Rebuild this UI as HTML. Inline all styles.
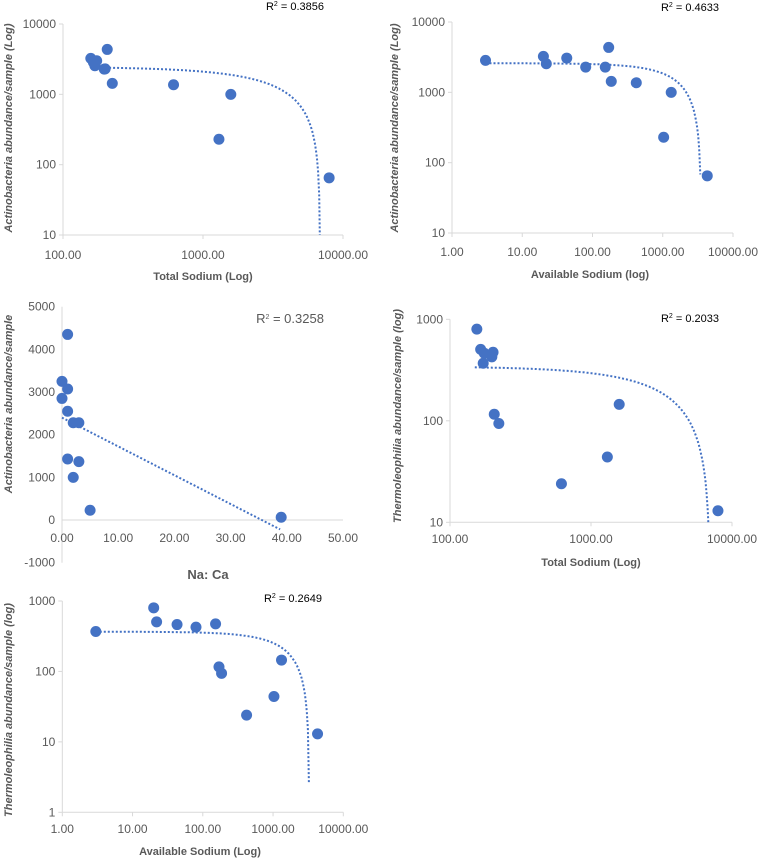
<!DOCTYPE html>
<html><head><meta charset="utf-8"><style>
html,body{margin:0;padding:0;background:#fff;}
svg{display:block;font-family:"Liberation Sans",sans-serif;}
</style></head><body>
<svg id="svg" width="760" height="859" viewBox="0 0 760 859"></svg>
<script>
// Chart 1: Actinobacteria vs Total Sodium (log-log)
const c1X = [158,174,169,207,197,200,165,225,616,1580,1300,7960];
const c1Y = [3250,3000,2550,4350,2280,2300,2850,1430,1370,1000,230,65];
const c1Trend = [2462,-0.359]; // intercept, slope (linear trend)
const c1XTicks = [100,1000,10000];
const c1XLabels = ["100.00","1000.00","10000.00"];
const c1YTicks = [10,100,1000,10000];
const c1YLabels = ["10","100","1000","10000"];
// Chart 2: Actinobacteria vs Available Sodium
const c2X = [3,20,22,43,80,152,170,185,420,1320,1030,4300];
const c2Y = [2850,3250,2550,3070,2280,2280,4350,1430,1370,1000,230,65];
const c2Trend = [2592,-0.737];
const c2XTicks = [1,10,100,1000,10000];
const c2XLabels = ["1.00","10.00","100.00","1000.00","10000.00"];
const c2YTicks = [10,100,1000,10000];
const c2YLabels = ["10","100","1000","10000"];
// Chart 3: Actinobacteria vs Na:Ca (linear)
const c3X = [0,0,1,1,1,2,3,1,3,2,5,39];
const c3Y = [3250,2850,4350,3070,2550,2280,2280,1430,1370,1000,230,65];
const c3Trend = [2400,-67.5];
const c3XTicks = [0,10,20,30,40,50];
const c3XLabels = ["0.00","10.00","20.00","30.00","40.00","50.00"];
const c3YTicks = [-1000,0,1000,2000,3000,4000,5000];
const c3YLabels = ["-1000","0","1000","2000","3000","4000","5000"];
// Chart 4: Thermoleophilia vs Total Sodium
const c4X = [155,165,175,202,198,172,206,222,1585,1306,617,7950];
const c4Y = [800,506,463,473,426,369,116,94,145,44,24,13];
const c4Trend = [343.6,-0.0491];
const c4XTicks = [100,1000,10000];
const c4XLabels = ["100.00","1000.00","10000.00"];
const c4YTicks = [10,100,1000];
const c4YLabels = ["10","100","1000"];
// Chart 5: Thermoleophilia vs Available Sodium
const c5X = [3,20,22,43,80,152,170,185,420,1030,1320,4300];
const c5Y = [369,800,506,463,426,473,116,94,24,44,145,13];
const c5Trend = [366.3,-0.1123];
const c5XTicks = [1,10,100,1000,10000];
const c5XLabels = ["1.00","10.00","100.00","1000.00","10000.00"];
const c5YTicks = [1,10,100,1000];
const c5YLabels = ["1","10","100","1000"];

const NS="http://www.w3.org/2000/svg";
const svg=document.getElementById('svg');
function mk(tag,attrs,parent,text){
  const e=document.createElementNS(NS,tag);
  for(const k in attrs)e.setAttribute(k,attrs[k]);
  if(text!==undefined)e.textContent=text;
  (parent||svg).appendChild(e);return e;
}
function chart(cfg){
  const g=mk('g',{});
  
  
  const lg=v=>Math.log10(v);
  const sx=v=>cfg.xlog? cfg.x0+(lg(v)-lg(cfg.xmin))/(lg(cfg.xmax)-lg(cfg.xmin))*(cfg.x1-cfg.x0)
                    : cfg.x0+(v-cfg.xmin)/(cfg.xmax-cfg.xmin)*(cfg.x1-cfg.x0);
  const sy=v=>cfg.ylog? cfg.y1-(lg(v)-lg(cfg.ymin))/(lg(cfg.ymax)-lg(cfg.ymin))*(cfg.y1-cfg.y0)
                    : cfg.y1-(v-cfg.ymin)/(cfg.ymax-cfg.ymin)*(cfg.y1-cfg.y0);
  const ya=mk('line',{x1:cfg.x0,y1:cfg.y0,x2:cfg.x0,y2:cfg.y1,stroke:'#d9d9d9','stroke-width':1},g);
  
  
  const xaY=cfg.ylog?cfg.y1:sy(0);
  const xa=mk('line',{x1:cfg.x0,y1:xaY,x2:cfg.x1,y2:xaY,stroke:'#d9d9d9','stroke-width':1},g);
  
  
  cfg.yt.forEach((t,i)=>{
    const y=sy(t);
    if(cfg.ylog) mk('line',{x1:cfg.x0-4,y1:y,x2:cfg.x0,y2:y,stroke:'#d9d9d9'},g);
    const tx=mk('text',{x:cfg.x0-7,y:y+4,'text-anchor':'end','font-size':12,fill:'#595959'},g,cfg.yl[i]);
    
    
  });
  cfg.xt.forEach((t,i)=>{
    const x=sx(t);
    if(cfg.xlog) mk('line',{x1:x,y1:cfg.y1,x2:x,y2:cfg.y1+4,stroke:'#d9d9d9'},g);
    const tx=mk('text',{x:x,y:cfg.xtY,'text-anchor':'middle','font-size':12,fill:'#595959'},g,cfg.xl[i]);
    
    
  });
  let pts=[];const n=200;
  for(let i=0;i<=n;i++){
    let x;
    if(cfg.xlog) x=Math.pow(10,lg(cfg.tx0)+(lg(cfg.tx1)-lg(cfg.tx0))*i/n);
    else x=cfg.tx0+(cfg.tx1-cfg.tx0)*i/n;
    const y=cfg.tr[0]+cfg.tr[1]*x;
    if(cfg.ylog && y<cfg.tymin) break;
    pts.push(sx(x).toFixed(1)+','+sy(y).toFixed(1));
  }
  if(cfg.ylog){
    const xe=(cfg.tymin-cfg.tr[0])/cfg.tr[1];
    pts.push(sx(xe).toFixed(1)+','+sy(cfg.tymin).toFixed(1));
  }
  const tl=mk('polyline',{points:pts.join(' '),fill:'none',stroke:'#4472c4','stroke-width':2,'stroke-dasharray':'2,2'},g);
  
  
  cfg.xs.forEach((v,i)=>{
    const c=mk('circle',{cx:sx(v),cy:sy(cfg.ys[i]),r:5.5,fill:'#4472c4'},g);
    
    
  });
  const r2=mk('text',{x:cfg.r2x,y:cfg.r2y,'text-anchor':'middle','font-size':cfg.r2s||11,fill:cfg.r2c||'#000'},g);
  
  
  r2.innerHTML='R<tspan font-size="7" dy="-4">2</tspan><tspan dy="4"> = '+cfg.r2+'</tspan>';
  const xt=mk('text',{x:cfg.xtx,y:cfg.xty,'text-anchor':'middle','font-size':cfg.xts||11,'font-weight':'bold',fill:'#595959'},g,cfg.xtitle);
  
  
  const yt=mk('text',{x:0,y:0,'text-anchor':'middle','font-size':11,'font-weight':'bold','font-style':'italic',fill:'#595959',transform:`translate(${cfg.ytx},${cfg.yty}) rotate(-90)`},g,cfg.ytitle);
  
  
}
chart({name:'chart-actino-total-sodium',xlog:true,ylog:true,x0:63,x1:343,xmin:100,xmax:10000,y0:24,y1:235,ymin:10,ymax:10000,
 xs:c1X,ys:c1Y,tr:c1Trend,tx0:200,tx1:7000,tymin:10,xt:c1XTicks,xl:c1XLabels,yt:c1YTicks,yl:c1YLabels,xtY:259,
 r2:'0.3856',r2x:295,r2y:10,xtitle:'Total Sodium (Log)',xtx:203,xty:280,ytitle:'Actinobacteria abundance/sample (Log)',ytx:12,yty:128});
chart({name:'chart-actino-available-sodium',xlog:true,ylog:true,x0:452,x1:733,xmin:1,xmax:10000,y0:22,y1:233,ymin:10,ymax:10000,
 xs:c2X,ys:c2Y,tr:c2Trend,tx0:3,tx1:3425,tymin:68,xt:c2XTicks,xl:c2XLabels,yt:c2YTicks,yl:c2YLabels,xtY:256,
 r2:'0.4633',r2x:690,r2y:11,xtitle:'Available Sodium (log)',xtx:590,xty:278,ytitle:'Actinobacteria abundance/sample (Log)',ytx:398,yty:128});
chart({name:'chart-actino-na-ca',xlog:false,ylog:false,x0:62,x1:343,xmin:0,xmax:50,y0:306.7,y1:562.7,ymin:-1000,ymax:5000,
 xs:c3X,ys:c3Y,tr:c3Trend,tx0:0,tx1:38.8,xt:c3XTicks,xl:c3XLabels,yt:c3YTicks,yl:c3YLabels,xtY:542,
 r2:'0.3258',r2x:290,r2y:323,r2s:13,r2c:'#595959',xtitle:'Na: Ca',xtx:208,xty:579,xts:13,ytitle:'Actinobacteria abundance/sample',ytx:12,yty:404});
chart({name:'chart-thermo-total-sodium',xlog:true,ylog:true,x0:450,x1:732,xmin:100,xmax:10000,y0:319.3,y1:522.3,ymin:10,ymax:1000,
 xs:c4X,ys:c4Y,tr:c4Trend,tx0:150,tx1:7000,tymin:10,xt:c4XTicks,xl:c4XLabels,yt:c4YTicks,yl:c4YLabels,xtY:543,
 r2:'0.2033',r2x:690,r2y:322,xtitle:'Total Sodium (Log)',xtx:591,xty:566,ytitle:'Thermoleophilia abundance/sample (log)',ytx:401,yty:416});
chart({name:'chart-thermo-available-sodium',xlog:true,ylog:true,x0:62.3,x1:343.3,xmin:1,xmax:10000,y0:601,y1:812.3,ymin:1,ymax:1000,
 xs:c5X,ys:c5Y,tr:c5Trend,tx0:3,tx1:3240,tymin:2.6,xt:c5XTicks,xl:c5XLabels,yt:c5YTicks,yl:c5YLabels,xtY:833,
 r2:'0.2649',r2x:293,r2y:602,xtitle:'Available Sodium (Log)',xtx:200,xty:855,ytitle:'Thermoleophilia abundance/sample (log)',ytx:12,yty:710});
</script>
</body></html>
